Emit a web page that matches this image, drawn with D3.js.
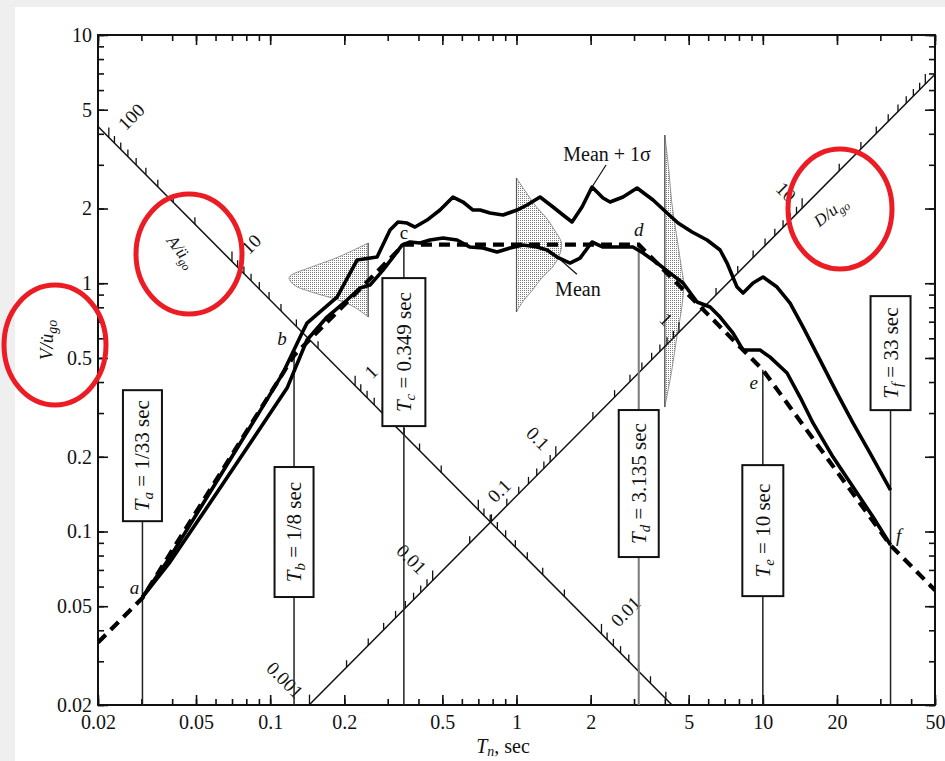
<!DOCTYPE html>
<html><head><meta charset="utf-8">
<script src="https://cdn.jsdelivr.net/npm/d3@7"></script>
<style>
html,body{margin:0;padding:0;background:#efefef;}
svg{display:block;}
text{font-family:"Liberation Serif","Times New Roman",serif;fill:#111;}
</style></head><body>
<svg id="chart" width="945" height="761"></svg>
<script>
// ---- axis ticks -------------------------------------------------------
const periodTicks = [0.02, 0.05, 0.1, 0.2, 0.5, 1, 2, 5, 10, 20, 50];
const velocityTicks = [0.02, 0.05, 0.1, 0.2, 0.5, 1, 2, 5, 10];
const accelLabels = [100, 10, 1, 0.1, 0.01];
const dispLabels = [0.001, 0.01, 0.1, 1, 10];

// ---- response spectra: period T (sec) and V / u̇go --------------------
const sigmaT = [0.0303, 0.0392, 0.0626, 0.0909, 0.1127, 0.1347, 0.1411, 0.1868, 0.2253, 0.2716, 0.3066, 0.3304, 0.3594, 0.3873, 0.4334, 0.4892, 0.5525, 0.6066, 0.6661, 0.7111, 0.7808, 0.8817, 1.005, 1.104, 1.246, 1.407, 1.545, 1.681, 1.845, 2.026, 2.245, 2.398, 2.707, 3.086, 3.584, 4.085, 4.528, 5.161, 5.937, 6.706, 7.159, 7.859, 8.315, 9.127, 10.02, 11.42, 12.90, 14.57, 17.08, 20.01, 23.25, 27.25, 33];
const sigmaV = [0.0544, 0.0788, 0.1672, 0.3055, 0.4346, 0.630, 0.691, 0.880, 1.240, 1.275, 1.638, 1.765, 1.748, 1.684, 1.797, 1.972, 2.225, 2.124, 1.972, 1.972, 1.918, 1.883, 1.972, 2.066, 2.225, 2.028, 1.883, 1.765, 2.028, 2.441, 2.204, 2.124, 2.225, 2.419, 2.164, 1.918, 1.748, 1.608, 1.493, 1.361, 1.206, 0.965, 0.913, 1.002, 1.059, 0.965, 0.832, 0.666, 0.490, 0.361, 0.273, 0.207, 0.1468];
const meanT = [0.0303, 0.0392, 0.0626, 0.0935, 0.1171, 0.1411, 0.1701, 0.2051, 0.2316, 0.2543, 0.2871, 0.3153, 0.3430, 0.3695, 0.4058, 0.4455, 0.5031, 0.5736, 0.6475, 0.7311, 0.8336, 0.9414, 1.063, 1.212, 1.330, 1.461, 1.649, 1.811, 2.026, 2.245, 2.559, 2.972, 3.265, 3.721, 4.201, 4.745, 5.408, 6.106, 6.706, 7.572, 8.315, 9.745, 10.70, 12.54, 14.16, 16.00, 19.28, 23.25, 28.03, 33];
const meanV = [0.0544, 0.0753, 0.1496, 0.2708, 0.3782, 0.591, 0.731, 0.856, 0.956, 0.983, 1.130, 1.275, 1.425, 1.466, 1.452, 1.493, 1.521, 1.493, 1.399, 1.386, 1.336, 1.386, 1.425, 1.399, 1.361, 1.275, 1.206, 1.263, 1.466, 1.399, 1.399, 1.399, 1.324, 1.206, 1.099, 1.002, 0.840, 0.802, 0.731, 0.630, 0.538, 0.538, 0.504, 0.435, 0.348, 0.273, 0.1994, 0.151, 0.1143, 0.0882];

// idealised spectrum through the corner periods a ... f
const idealT = [0.02, 1 / 33, 1 / 8, 0.349, 3.135, 10, 33, 50];
const idealV = [0.0357, 0.054, 0.512, 1.43, 1.43, 0.448, 0.088, 0.058];
const cornerNames = ["a", "b", "c", "d", "e", "f"];
const cornerText = ["1/33", "1/8", "0.349", "3.135", "10", "33"];

// probability distributions of V at three periods (relative density)
const dist1T = 0.25;
const dist1V = [1.452, 1.275, 1.162, 1.079, 1.049, 0.983, 0.922, 0.856, 0.802, 0.731];
const dist1P = [0, 0.375, 0.71, 0.96, 0.99, 0.925, 0.71, 0.375, 0.175, 0];
const dist2T = 1;
const dist2V = [2.654, 2.309, 2.028, 1.831, 1.638, 1.452, 1.299, 1.162, 1.059, 0.939, 0.840, 0.766];
const dist2P = [0, 0.125, 0.25, 0.375, 0.475, 0.5625, 0.5375, 0.45, 0.325, 0.2, 0.075, 0];
const dist3T = 4;
const dist3V = [3.954, 2.858, 2.104, 1.536, 1.130, 1.002, 0.802, 0.607, 0.447, 0.317];
const dist3P = [0, 0.05, 0.0875, 0.15, 0.2125, 0.2375, 0.2125, 0.15, 0.0875, 0];

// tripartite relations: A = accelFactor·V/T, D = dispFactor·V·T
const accelFactor = 0.572;
const dispFactor = 0.345;
const accelLineVT = 0.0856;   // V·T along the line carrying the A scale
const dispLineVperT = 0.139;  // V/T along the line carrying the D scale

// ---- layout ------------------------------------------------------------
const W = 945, H = 761;
const P = { left: 98, right: 935, top: 35, bottom: 705 };
const boxCenterV = [0.202, 0.0995, 0.528, 0.156, 0.1008, 0.523];
const boxHeight = [131, 130, 148, 147, 131, 114];
const boxWidth = [39, 39, 43, 40, 41, 40];
const letterOffset = [[-8, -11], [-12, -17], [0, -12], [0, -15], [-9, 13], [8, -10]];

const svg = d3.select("#chart");
svg.append("rect").attr("x", 15).attr("y", 7).attr("width", W - 15).attr("height", H - 7).attr("fill", "#fff");

const x = d3.scaleLog().domain([0.02, 50]).range([P.left, P.right]);
const y = d3.scaleLog().domain([0.02, 10]).range([P.bottom, P.top]);
const dens = d3.scaleLinear().domain([0, 1]).range([0, 80]);

const defs = svg.append("defs");
const pat = defs.append("pattern").attr("id", "stipple").attr("width", 2).attr("height", 2)
  .attr("patternUnits", "userSpaceOnUse");
pat.append("rect").attr("width", 2).attr("height", 2).attr("fill", "#fff");
pat.append("rect").attr("width", 1).attr("height", 1).attr("fill", "#7a7a7a");
defs.append("clipPath").attr("id", "clip").append("rect")
  .attr("x", P.left).attr("y", P.top).attr("width", P.right - P.left).attr("height", P.bottom - P.top);

function minorTicks(lo, hi) {
  const out = [];
  for (let e = -4; e <= 3; e++) for (let m = 1; m <= 9; m++) {
    const v = +(m * Math.pow(10, e)).toPrecision(4);
    if (v >= lo * 0.999 && v <= hi * 1.001) out.push({ v, major: m === 1 });
  }
  return out;
}

// ---- probability distributions -----------------------------------------
function drawDist(T, Vs, Ps, dir) {
  const pts = Vs.map((v, i) => [v, Ps[i]]);
  const g = svg.append("g");
  const area = d3.area().curve(d3.curveCatmullRom)
    .y(d => y(d[0])).x0(x(T)).x1(d => x(T) + dir * dens(d[1]));
  g.append("path").attr("d", area(pts)).attr("fill", "url(#stipple)")
    .attr("stroke", "#8a8a8a").attr("stroke-width", 0.9);
  g.append("line").attr("x1", x(T)).attr("x2", x(T))
    .attr("y1", y(Vs[0])).attr("y2", y(Vs[Vs.length - 1]))
    .attr("stroke", "#555").attr("stroke-width", 1.2);
}
drawDist(dist1T, dist1V, dist1P, -1);
drawDist(dist2T, dist2V, dist2P, 1);
drawDist(dist3T, dist3V, dist3P, 1);

// ---- axes ---------------------------------------------------------------
const fmt = d => String(d);
const xMinor = minorTicks(0.02, 50).map(d => d.v);
const yMinor = minorTicks(0.02, 10).map(d => d.v);
function styleAxis(g) {
  g.select(".domain").remove();
  g.selectAll("line").attr("stroke", "#111").attr("stroke-width", 1.6);
  g.selectAll("text").attr("font-size", 20).attr("fill", "#111")
    .attr("font-family", "'Liberation Serif', serif");
}
svg.append("g").attr("transform", `translate(0,${P.bottom})`)
  .call(d3.axisBottom(x).tickValues(xMinor).tickSize(-6).tickFormat("")).call(styleAxis);
svg.append("g").attr("transform", `translate(0,${P.bottom})`)
  .call(d3.axisBottom(x).tickValues(periodTicks).tickSize(-10).tickPadding(10).tickFormat(fmt)).call(styleAxis);
svg.append("g").attr("transform", `translate(0,${P.top})`)
  .call(d3.axisTop(x).tickValues(xMinor).tickSize(-6).tickFormat("")).call(styleAxis);
svg.append("g").attr("transform", `translate(0,${P.top})`)
  .call(d3.axisTop(x).tickValues(periodTicks).tickSize(-10).tickFormat("")).call(styleAxis);
svg.append("g").attr("transform", `translate(${P.left},0)`)
  .call(d3.axisLeft(y).tickValues(yMinor).tickSize(-6).tickFormat("")).call(styleAxis);
svg.append("g").attr("transform", `translate(${P.left},0)`)
  .call(d3.axisLeft(y).tickValues(velocityTicks).tickSize(-10).tickPadding(6).tickFormat(fmt)).call(styleAxis);
svg.append("g").attr("transform", `translate(${P.right},0)`)
  .call(d3.axisRight(y).tickValues(yMinor).tickSize(-6).tickFormat("")).call(styleAxis);
svg.append("g").attr("transform", `translate(${P.right},0)`)
  .call(d3.axisRight(y).tickValues(velocityTicks).tickSize(-10).tickFormat("")).call(styleAxis);

svg.append("rect").attr("x", P.left).attr("y", P.top).attr("width", P.right - P.left)
  .attr("height", P.bottom - P.top).attr("fill", "none").attr("stroke", "#111").attr("stroke-width", 2);

// ---- diagonal acceleration and displacement scales ----------------------
const diag = svg.append("g");
const accelPoint = a => { const T = Math.sqrt(accelLineVT * accelFactor / a); return [T, accelLineVT / T]; };
const dispPoint = d => { const T = Math.sqrt(d / (dispFactor * dispLineVperT)); return [T, dispLineVperT * T]; };
const inPlot = p => p[0] >= 0.0199 && p[0] <= 50.1 && p[1] >= 0.0199 && p[1] <= 10.1;

diag.append("line")
  .attr("x1", x(0.02)).attr("y1", y(accelLineVT / 0.02))
  .attr("x2", x(accelLineVT / 0.02)).attr("y2", y(0.02))
  .attr("stroke", "#111").attr("stroke-width", 1.5);
diag.append("line")
  .attr("x1", x(0.02 / dispLineVperT)).attr("y1", y(0.02))
  .attr("x2", x(50)).attr("y2", y(50 * dispLineVperT))
  .attr("stroke", "#111").attr("stroke-width", 1.5);

minorTicks(0.001, 1000).forEach(t => {
  [[accelPoint(t.v)], [dispPoint(t.v)]].forEach(([p]) => {
    if (!inPlot(p)) return;
    diag.append("line").attr("x1", x(p[0])).attr("x2", x(p[0]))
      .attr("y1", y(p[1])).attr("y2", y(p[1]) - (t.major ? 10 : 7))
      .attr("stroke", "#111").attr("stroke-width", 1.3);
  });
});
accelLabels.forEach(a => {
  const p = accelPoint(a);
  diag.append("text").attr("transform", `translate(${x(p[0]) + 17},${y(p[1]) - 6}) rotate(-45)`)
    .attr("font-size", 19).text(fmt(a));
});
dispLabels.forEach(d => {
  const p = dispPoint(d);
  diag.append("text").attr("transform", `translate(${x(p[0]) - 14},${y(p[1]) - 5}) rotate(45)`)
    .attr("text-anchor", "end").attr("font-size", 19).text(fmt(d));
});

// ---- corner period markers with boxed labels ----------------------------
const markers = svg.append("g");
cornerNames.forEach((n, i) => {
  const T = idealT[i + 1];
  const cx = x(T), cy = y(boxCenterV[i]);
  const bw = boxWidth[i], bh = boxHeight[i];
  const top = Math.min(y(idealV[i + 1]), cy - bh / 2);
  markers.append("line").attr("x1", cx).attr("x2", cx).attr("y1", top).attr("y2", P.bottom)
    .attr("stroke", i === 3 ? "#7a7a7a" : "#222").attr("stroke-width", i === 3 ? 2 : 1.5);
  markers.append("rect").attr("x", cx - bw / 2).attr("y", cy - bh / 2).attr("width", bw).attr("height", bh)
    .attr("fill", "#fff").attr("stroke", "#111").attr("stroke-width", 2);
  const t = markers.append("text").attr("transform", `translate(${cx + 7},${cy}) rotate(-90)`)
    .attr("text-anchor", "middle").attr("font-size", 21);
  t.append("tspan").attr("font-style", "italic").text("T");
  t.append("tspan").attr("font-style", "italic").attr("font-size", 15).attr("dy", 4).text(n);
  t.append("tspan").attr("dy", -4).text(` = ${cornerText[i]} sec`);
});

// ---- spectra --------------------------------------------------------------
const line = d3.line().x(d => x(d[0])).y(d => y(d[1]));
const curves = svg.append("g").attr("clip-path", "url(#clip)");
curves.append("path").attr("d", line(sigmaT.map((t, i) => [t, sigmaV[i]])))
  .attr("fill", "none").attr("stroke", "#000").attr("stroke-width", 3.6).attr("stroke-linejoin", "round");
curves.append("path").attr("d", line(meanT.map((t, i) => [t, meanV[i]])))
  .attr("fill", "none").attr("stroke", "#000").attr("stroke-width", 3.6).attr("stroke-linejoin", "round");
curves.append("path").attr("d", line(idealT.map((t, i) => [t, idealV[i]])))
  .attr("fill", "none").attr("stroke", "#000").attr("stroke-width", 4.2).attr("stroke-dasharray", "11,7");

// corner letters
cornerNames.forEach((n, i) => {
  svg.append("text").attr("x", x(idealT[i + 1]) + letterOffset[i][0]).attr("y", y(idealV[i + 1]) + letterOffset[i][1])
    .attr("text-anchor", "middle").attr("dy", "0.35em").attr("font-size", 19)
    .attr("font-style", n === "c" ? "normal" : "italic").text(n);
});

// curve labels with leader lines
const sigPeak = [sigmaT[29], sigmaV[29]];
svg.append("line").attr("x1", x(sigPeak[0])).attr("y1", y(sigPeak[1]))
  .attr("x2", x(sigPeak[0]) + 14).attr("y2", y(sigPeak[1]) - 22).attr("stroke", "#111").attr("stroke-width", 1.2);
svg.append("text").attr("x", x(sigPeak[0]) + 15).attr("y", y(sigPeak[1]) - 26)
  .attr("text-anchor", "middle").attr("font-size", 20).text("Mean + 1σ");
const meanPt = [1.5, 1.25];
svg.append("line").attr("x1", x(meanPt[0])).attr("y1", y(meanPt[1]))
  .attr("x2", x(meanPt[0]) + 17).attr("y2", y(meanPt[1]) + 15).attr("stroke", "#111").attr("stroke-width", 1.2);
svg.append("text").attr("x", x(meanPt[0]) + 18).attr("y", y(meanPt[1]) + 37)
  .attr("text-anchor", "middle").attr("font-size", 20).text("Mean");

// ---- axis titles ----------------------------------------------------------
const xt = svg.append("text").attr("x", 503).attr("y", 753).attr("text-anchor", "middle").attr("font-size", 20);
xt.append("tspan").attr("font-style", "italic").text("T");
xt.append("tspan").attr("font-style", "italic").attr("font-size", 14).attr("dy", 3).text("n");
xt.append("tspan").attr("dy", -3).text(", sec");

const yt = svg.append("text").attr("transform", "translate(53,340) rotate(-90)")
  .attr("text-anchor", "middle").attr("font-size", 19).attr("font-style", "italic");
yt.append("tspan").text("V/u\u0307");
yt.append("tspan").attr("font-size", 14).attr("dy", 4).text("go");

const at = svg.append("text").attr("transform", "translate(177,255) rotate(52)")
  .attr("text-anchor", "middle").attr("font-size", 17).attr("font-style", "italic");
at.append("tspan").text("A/ü");
at.append("tspan").attr("font-size", 12).attr("dy", 4).text("go");

const dt = svg.append("text").attr("transform", "translate(834,216) rotate(-38)")
  .attr("text-anchor", "middle").attr("font-size", 17).attr("font-style", "italic");
dt.append("tspan").text("D/u");
dt.append("tspan").attr("font-size", 12).attr("dy", 4).text("go");

// ---- highlight ellipses -----------------------------------------------------
[[55, 345, 51, 60], [189, 254, 53, 60], [840, 209, 52, 60]].forEach(e => {
  svg.append("ellipse").attr("cx", e[0]).attr("cy", e[1]).attr("rx", e[2]).attr("ry", e[3])
    .attr("fill", "none").attr("stroke", "#ec1c24").attr("stroke-width", 5);
});
</script>
</body></html>
